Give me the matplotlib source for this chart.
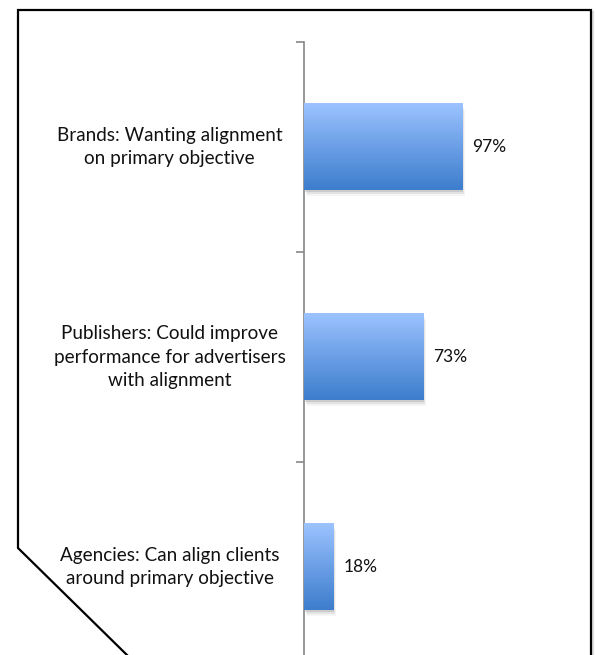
import numpy as np
import matplotlib
matplotlib.use("Agg")
import matplotlib.pyplot as plt
from matplotlib.lines import Line2D
from matplotlib.colors import LinearSegmentedColormap
from matplotlib.patches import Rectangle

categories = [
    "Brands: Wanting alignment\non primary objective",
    "Publishers: Could improve\nperformance for advertisers\nwith alignment",
    "Agencies: Can align clients\naround primary objective",
]
values = [0.97, 0.73, 0.18]
value_labels = ["97%", "73%", "18%"]

W, H = 596, 655
fig = plt.figure(figsize=(W / 100, H / 100), dpi=100)
plt.rcParams["font.family"] = ["Lato", "DejaVu Sans"]

# axes: y axis line at x=304px, category bands of 210px starting at y=42px
x0 = 304 / W
xlen = 196 / W
top = 1 - 42 / H
height = 630 / H
ax = fig.add_axes([x0, top - height, xlen, height])
ax.set_xlim(0, 1.2)
ax.set_ylim(2.5, -0.5)

bar_h = 0.41
ypos = np.arange(len(categories))
bars = ax.barh(ypos, values, height=bar_h, color="none", edgecolor="none", zorder=3)

grad = LinearSegmentedColormap.from_list("g", ["#9cc3ff", "#6b9fe6", "#3d7dcc"])
gimg = np.linspace(0, 1, 256).reshape(-1, 1)
for b in bars:
    x, y, w, h = b.get_x(), b.get_y(), b.get_width(), b.get_height()
    # soft drop shadow
    for k, a in enumerate([0.10, 0.07, 0.04]):
        off = 0.004 * (k + 1)
        ax.add_patch(Rectangle((x + off * 1.5, y + off * 2.5), w, h,
                               facecolor="black", alpha=a, edgecolor="none", zorder=2))
    ax.imshow(gimg, cmap=grad, aspect="auto", extent=(x, x + w, y + h, y),
              zorder=3, interpolation="bilinear")

for v, lab, y in zip(values, value_labels, ypos):
    ax.text(v + 0.06, y, lab, va="center", ha="left", fontsize=12.5, color="#111111")

ax.set_xlim(0, 1.2)
ax.set_ylim(2.5, -0.5)

for s in ["top", "right", "bottom"]:
    ax.spines[s].set_visible(False)
ax.spines["left"].set_color("#888888")
ax.spines["left"].set_linewidth(1.2)
ax.set_xticks([])
ax.set_yticks([-0.5, 0.5, 1.5, 2.5])
ax.set_yticklabels([])
ax.tick_params(axis="y", direction="out", length=6, width=1.2, color="#888888")

# category labels, centred in the space left of the axis
for lab, y in zip(categories, ypos):
    ax.text(-134 / 163, y, lab, ha="center", va="center", fontsize=13.6,
            color="#111111", linespacing=1.45, clip_on=False)

# outer frame with a clipped lower-left corner
def fx(px):
    return px / W

def fy(py):
    return 1 - py / H

frame_x = [fx(128), fx(18), fx(18), fx(591), fx(591)]
frame_y = [fy(656), fy(548), fy(10), fy(10), fy(656)]
fig.add_artist(Line2D([fx(593), fx(593)], [fy(12), fy(656)], color="#dddddd", lw=1.5))
fig.add_artist(Line2D(frame_x, frame_y, color="black", lw=1.6, solid_joinstyle="miter"))

fig.savefig("out.png", dpi=100)
